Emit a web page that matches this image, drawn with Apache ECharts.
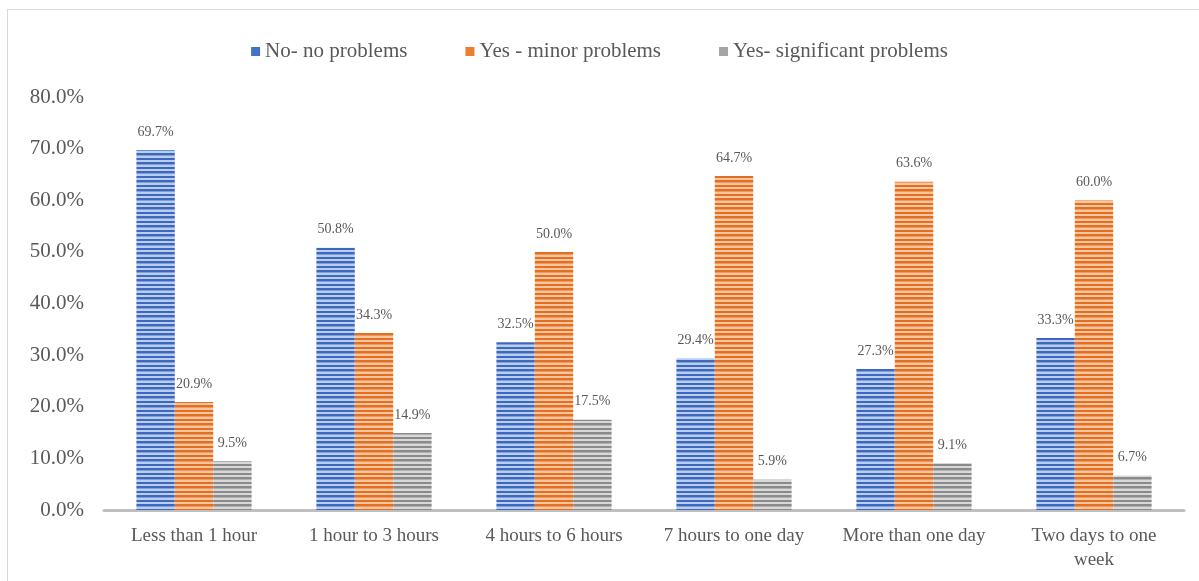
<!DOCTYPE html>
<html>
<head>
<meta charset="utf-8">
<script src="https://cdn.jsdelivr.net/npm/echarts@6/dist/echarts.min.js"></script>
<style>
  html, body { margin: 0; padding: 0; background: #fff; }
  #frame {
    position: absolute; left: 7px; top: 9px; width: 1200px; height: 580px;
    border-left: 1px solid #d9d9d9; border-top: 1px solid #d9d9d9;
  }
  #chart { position: absolute; left: 0; top: 0; width: 1199px; height: 581px; }
</style>
</head>
<body>
<div id="frame"></div>
<div id="chart"></div>
<script>
const categories = [
  'Less than 1 hour',
  '1 hour to 3 hours',
  '4 hours to 6 hours',
  '7 hours to one day',
  'More than one day',
  'Two days to one\nweek',
]
const noProblems = [69.7, 50.8, 32.5, 29.4, 27.3, 33.3]
const minorProblems = [20.9, 34.3, 50.0, 64.7, 63.6, 60.0]
const significantProblems = [9.5, 14.9, 17.5, 5.9, 9.1, 6.7]
const seriesNames = ['No- no problems', 'Yes - minor problems', 'Yes- significant problems']

// striped fill, like the office "horizontal lines" pattern
function stripes(dark, light, mid) {
  const c = document.createElement('canvas')
  c.width = 4
  c.height = 9
  const ctx = c.getContext('2d')
  const rows = [dark, dark, mid, light, light, dark, dark, light, light]
  rows.forEach((col, i) => {
    ctx.fillStyle = col
    ctx.fillRect(0, i, 4, 1)
  })
  return { image: c, repeat: 'repeat' }
}

const blueFill = stripes('#3d68bd', '#b9cdef', '#7f9fd9')
const orangeFill = stripes('#e46f22', '#f7c7a2', '#ee9a5e')
const grayFill = stripes('#8a8a8a', '#d8d8d8', '#b0b0b0')

const font = 'Liberation Serif'
const textColor = '#595959'

const chart = echarts.init(document.getElementById('chart'))

function makeSeries(name, data, fill) {
  return {
    name,
    type: 'bar',
    data,
    barGap: '0%',
    barCategoryGap: '36%',
    itemStyle: { color: fill },
    label: {
      show: true,
      position: 'top',
      distance: 11,
      formatter: (p) => p.value.toFixed(1) + '%',
      fontFamily: font,
      fontSize: 14,
      color: textColor,
    },
    emphasis: { disabled: true },
  }
}

chart.setOption({
  animation: false,
  textStyle: { fontFamily: font },
  legend: {
    top: 36,
    left: 'center',
    itemWidth: 9,
    itemHeight: 9,
    itemGap: 58,
    itemTextGap: 3,
    icon: 'rect',
    textStyle: { fontFamily: font, fontSize: 21, color: textColor },
    data: [
      { name: seriesNames[0], itemStyle: { color: '#4472c4' } },
      { name: seriesNames[1], itemStyle: { color: '#ed7d31' } },
      { name: seriesNames[2], itemStyle: { color: '#a5a5a5' } },
    ],
  },
  grid: {
    left: 104,
    right: 15,
    top: 97,
    bottom: 71,
    containLabel: false,
  },
  xAxis: {
    type: 'category',
    data: categories,
    axisTick: { show: false },
    axisLine: { lineStyle: { color: '#bfbfbf', width: 3 } },
    axisLabel: {
      fontFamily: font,
      fontSize: 19,
      color: textColor,
      margin: 14,
      lineHeight: 24,
      interval: 0,
    },
  },
  yAxis: {
    type: 'value',
    min: 0,
    max: 80,
    interval: 10,
    splitLine: { show: false },
    axisLine: { show: false },
    axisTick: { show: false },
    axisLabel: {
      fontFamily: font,
      fontSize: 21,
      color: textColor,
      margin: 20,
      formatter: (v) => v.toFixed(1) + '%',
    },
  },
  series: [
    makeSeries(seriesNames[0], noProblems, blueFill),
    makeSeries(seriesNames[1], minorProblems, orangeFill),
    makeSeries(seriesNames[2], significantProblems, grayFill),
  ],
})
</script>
</body>
</html>
